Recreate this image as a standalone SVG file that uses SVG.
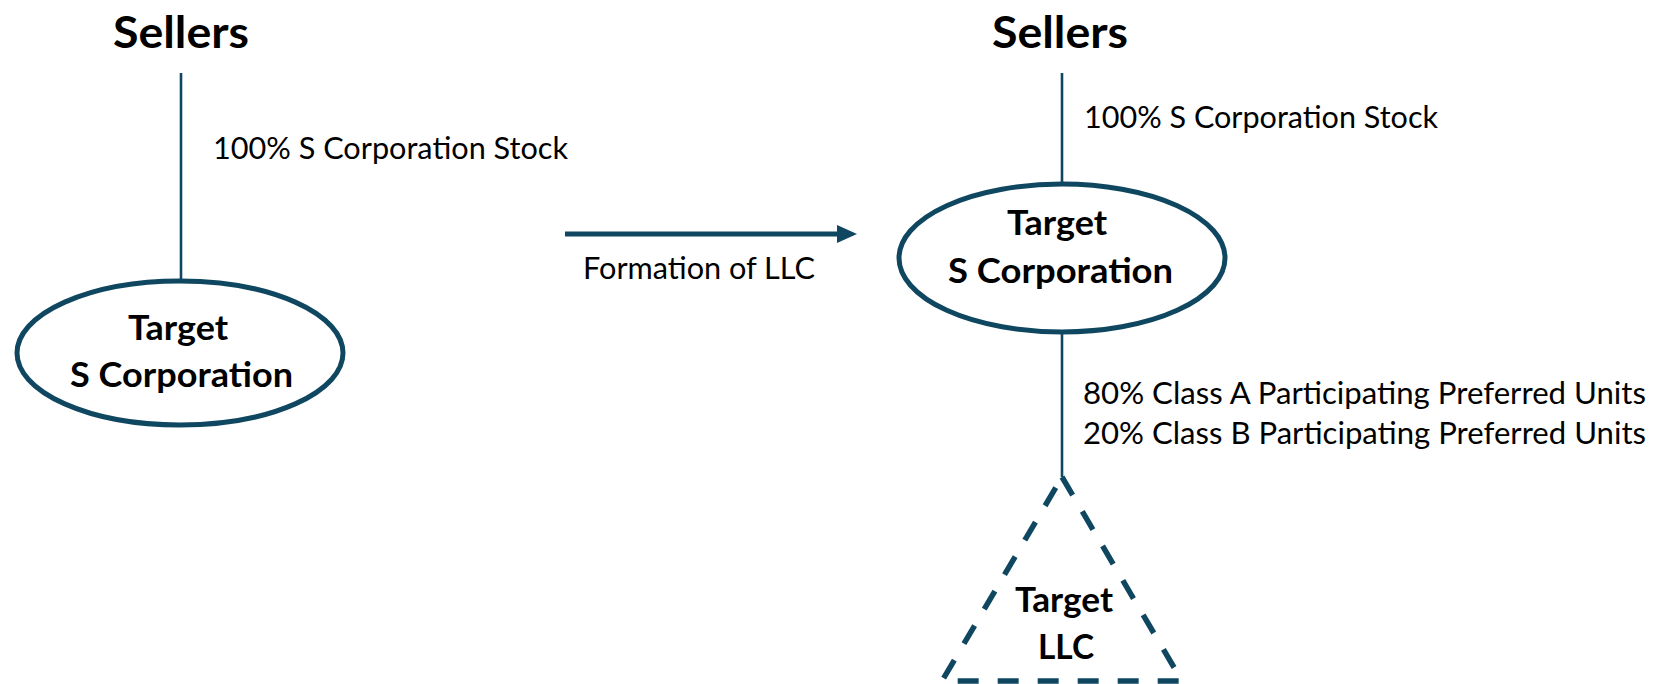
<svg xmlns="http://www.w3.org/2000/svg" width="1668" height="684" viewBox="0 0 1668 684">
  <style>
    .title { font-family: Lato, "Open Sans", "Liberation Sans", sans-serif; font-weight: bold; font-size: 44px; fill: #000; }
    .node { font-family: Lato, "Open Sans", "Liberation Sans", sans-serif; font-weight: bold; font-size: 35px; fill: #000; }
    .lbl { font-family: Lato, "Open Sans", "Liberation Sans", sans-serif; font-size: 31px; fill: #000; }
    .edge { stroke: #0F4761; stroke-width: 2.6; fill: none; }
    .shape { stroke: #0F4761; stroke-width: 5; fill: #fff; }
    .dash { stroke: #0F4761; stroke-width: 5.5; fill: none; stroke-dasharray: 21 19; }
  </style>
  <defs>
    <marker id="arrow" markerUnits="userSpaceOnUse" markerWidth="20" markerHeight="18" viewBox="0 0 20 18" refX="8" refY="9" orient="auto">
      <path d="M0,0 L20,9 L0,18 Z" fill="#0F4761"/>
    </marker>
  </defs>
  <rect width="1668" height="684" fill="#fff"/>

  <g id="connectors">
    <line class="edge" x1="181" y1="73" x2="181" y2="280"/>
    <line class="edge" x1="1062" y1="73" x2="1062" y2="185"/>
    <line class="edge" x1="1062" y1="331" x2="1062" y2="477"/>
    <line x1="565" y1="234" x2="845" y2="234" stroke="#0F4761" stroke-width="5" marker-end="url(#arrow)"/>
    <text class="lbl" x="213" y="159" textLength="355" lengthAdjust="spacingAndGlyphs">100% S Corporation Stock</text>
    <text class="lbl" x="1084" y="128" textLength="354" lengthAdjust="spacingAndGlyphs">100% S Corporation Stock</text>
    <text class="lbl" x="699" y="279" text-anchor="middle" textLength="232" lengthAdjust="spacingAndGlyphs">Formation of LLC</text>
    <text class="lbl" x="1083" y="404" textLength="563" lengthAdjust="spacingAndGlyphs">80% Class A Participating Preferred Units</text>
    <text class="lbl" x="1083" y="444" textLength="563" lengthAdjust="spacingAndGlyphs">20% Class B Participating Preferred Units</text>
  </g>

  <g id="sellers-left">
    <text class="title" x="181" y="48" text-anchor="middle" textLength="136" lengthAdjust="spacingAndGlyphs">Sellers</text>
  </g>

  <g id="target-s-corp-left">
    <ellipse class="shape" cx="180" cy="353" rx="163" ry="72"/>
    <text class="node" x="178" y="340" text-anchor="middle" textLength="100" lengthAdjust="spacingAndGlyphs">Target</text>
    <text class="node" x="181.5" y="387" text-anchor="middle" textLength="223" lengthAdjust="spacingAndGlyphs">S Corporation</text>
  </g>

  <g id="sellers-right">
    <text class="title" x="1060" y="48" text-anchor="middle" textLength="136" lengthAdjust="spacingAndGlyphs">Sellers</text>
  </g>

  <g id="target-s-corp-right">
    <ellipse class="shape" cx="1062" cy="258" rx="163" ry="74"/>
    <text class="node" x="1057" y="235" text-anchor="middle" textLength="100" lengthAdjust="spacingAndGlyphs">Target</text>
    <text class="node" x="1060.5" y="283" text-anchor="middle" textLength="225" lengthAdjust="spacingAndGlyphs">S Corporation</text>
  </g>

  <g id="target-llc">
    <polygon class="dash" points="1062,477 1182,681 942,681"/>
    <text class="node" x="1064" y="612" text-anchor="middle" textLength="98" lengthAdjust="spacingAndGlyphs">Target</text>
    <text class="node" x="1066" y="659" text-anchor="middle" textLength="56" lengthAdjust="spacingAndGlyphs">LLC</text>
  </g>
</svg>
